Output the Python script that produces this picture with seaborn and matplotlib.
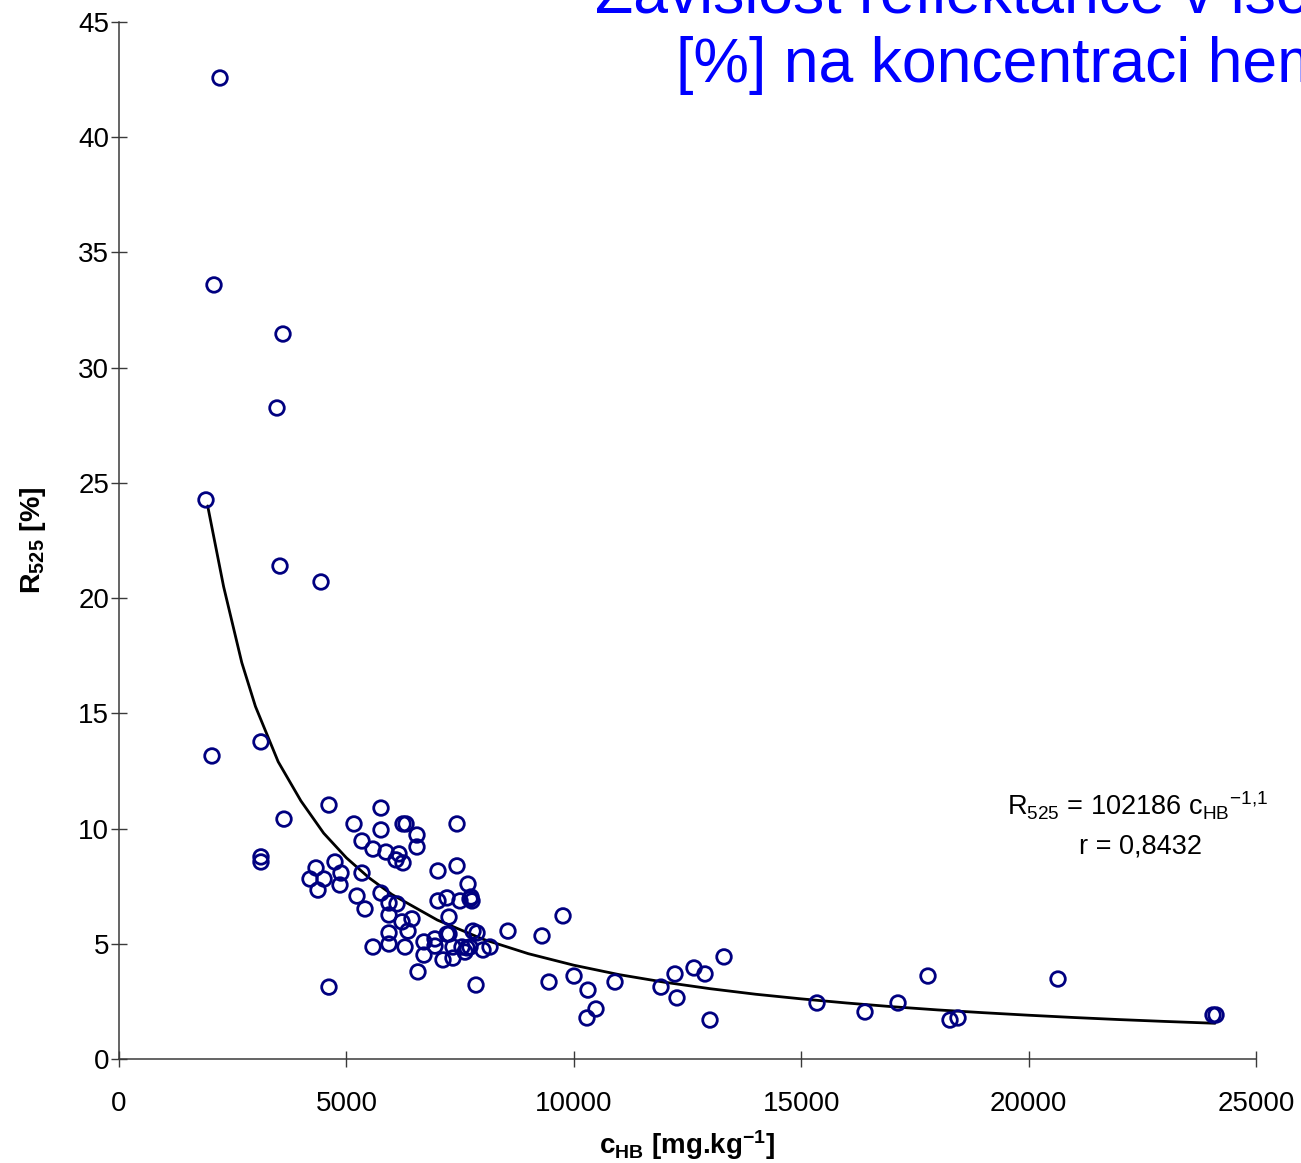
import matplotlib
matplotlib.use("Agg")
import matplotlib.pyplot as plt
import seaborn as sns
import pandas as pd

# ---- data ----
c_hb = [2221, 2089, 3606, 3474, 1913, 3540, 4442, 2045, 3122, 3628,
        3122, 3122, 4617, 5167, 5761, 5761, 5343, 5585, 5871, 6245,
        6311, 6552, 6552, 6157, 6091, 6245, 7432, 7432, 7014, 7674,
        7718, 7762, 7740, 4332, 4749, 4881, 4859, 4200, 4508, 4376,
        5343, 5233, 5409, 5761, 5937, 6113, 5937, 6223, 6442, 5937,
        6355, 5585, 5937, 6289, 6574, 6706, 6706, 6948, 7014, 7212,
        7256, 7212, 7124, 7344, 7542, 7344, 7498, 7652, 7718, 7608,
        7784, 7872, 8004, 8158, 7850, 6948, 4617, 8553, 9301, 9763,
        9455, 10005, 10312, 10290, 10488, 10906, 11917, 12225, 12269, 12643,
        12885, 12995, 13303, 15348, 16403, 17129, 17788, 18272, 18448, 20647,
        24055, 24121, 7256]
r525 = [42.57, 33.59, 31.46, 28.25, 24.26, 21.39, 20.70, 13.15, 13.76, 10.41,
        8.77, 8.55, 11.02, 10.20, 10.89, 9.94, 9.46, 9.11, 8.98, 10.20,
        10.20, 9.72, 9.20, 8.90, 8.64, 8.51, 10.20, 8.38, 8.16, 7.59,
        6.94, 6.86, 7.03, 8.29, 8.55, 8.07, 7.55, 7.81, 7.81, 7.33,
        8.07, 7.07, 6.51, 7.20, 6.77, 6.73, 6.25, 5.95, 6.08, 5.47,
        5.55, 4.86, 4.99, 4.86, 3.78, 5.08, 4.51, 5.21, 6.86, 6.99,
        6.16, 5.42, 4.30, 4.86, 4.86, 4.38, 6.86, 4.82, 4.86, 4.64,
        5.55, 5.47, 4.73, 4.86, 3.21, 4.90, 3.12, 5.55, 5.34, 6.21,
        3.34, 3.60, 2.99, 1.78, 2.17, 3.34, 3.12, 3.69, 2.65, 3.95,
        3.69, 1.69, 4.43, 2.43, 2.04, 2.43, 3.60, 1.69, 1.78, 3.47,
        1.91, 1.91, 5.42]

# trend line (power fit)
trend_x = [1950, 2300, 2700, 3000, 3500, 4000, 4500, 5000, 5500, 6000,
           7000, 8000, 9000, 10000, 11000, 12000, 13000, 14000, 15000, 16000,
           17000, 18000, 19000, 20000, 21000, 22000, 23000, 24100]
trend_y = [24.0, 20.5, 17.2, 15.3, 12.9, 11.2, 9.8, 8.73, 7.86, 7.14,
           6.03, 5.20, 4.57, 4.07, 3.66, 3.33, 3.05, 2.81, 2.61, 2.43,
           2.27, 2.13, 2.01, 1.90, 1.80, 1.71, 1.63, 1.55]

x_ticks = [0, 5000, 10000, 15000, 20000, 25000]
y_ticks = [0, 5, 10, 15, 20, 25, 30, 35, 40, 45]

title_line1 = "Závislost reflektance v isosbestickém bodě R525"
title_line2 = "[%] na koncentraci hemoglobinu"
eq_line1 = "R$_{525}$ = 102186 c$_{HB}$$^{-1{,}1}$"
eq_line2 = "r = 0,8432"

# ---- style ----
sns.set_theme(style="white")
plt.rcParams["font.family"] = ["Liberation Sans", "DejaVu Sans"]
plt.rcParams["mathtext.default"] = "regular"

W, H = 1301, 1163
fig = plt.figure(figsize=(W / 100, H / 100), dpi=100)
ax = fig.add_axes([119 / W, 1 - 1059 / H, (1256 - 119) / W, (1059 - 22) / H])

df = pd.DataFrame({"c": c_hb, "r": r525})
tr = pd.DataFrame({"x": trend_x, "y": trend_y})

sns.lineplot(data=tr, x="x", y="y", ax=ax, color="black", linewidth=2.0,
             sort=False, estimator=None, zorder=2)
sns.scatterplot(data=df, x="c", y="r", ax=ax, s=110, facecolors="none",
                edgecolor="#000080", linewidth=2.0, zorder=3)

ax.set_xlim(0, 25000)
ax.set_ylim(0, 45)
ax.set_xticks(x_ticks)
ax.set_yticks(y_ticks)
ax.set_xticklabels([str(v) for v in x_ticks])
ax.set_yticklabels([str(v) for v in y_ticks])

for s in ["top", "right"]:
    ax.spines[s].set_visible(False)
for s in ["left", "bottom"]:
    ax.spines[s].set_color("#3a3a3a")
    ax.spines[s].set_linewidth(1.1)

ax.tick_params(axis="both", which="major", direction="inout", length=12,
               width=1.0, color="#3a3a3a", labelsize=20, labelcolor="black",
               bottom=True, left=True)
ax.tick_params(axis="y", pad=1)
ax.tick_params(axis="x", pad=17)
ax.grid(False)

ax.set_xlabel("c$_{HB}$ [mg.kg$^{-1}$]", fontsize=20, fontweight="bold",
              labelpad=8, color="black")
ax.set_ylabel("R$_{525}$ [%]", fontsize=20.5, fontweight="bold",
              labelpad=22, color="black")

ax.text(22400, 10.98, eq_line1, fontsize=19.5, ha="center", va="center",
        color="black")
ax.text(22450, 9.22, eq_line2, fontsize=19.5, ha="center", va="center",
        color="black")

fig.text(595 / W, 1 - 13 / H, title_line1, fontsize=45, color="#0000FF",
         ha="left", va="baseline")
fig.text(676 / W, 1 - 82 / H, title_line2, fontsize=45, color="#0000FF",
         ha="left", va="baseline")

fig.savefig("out.png", dpi=100, facecolor="white")
